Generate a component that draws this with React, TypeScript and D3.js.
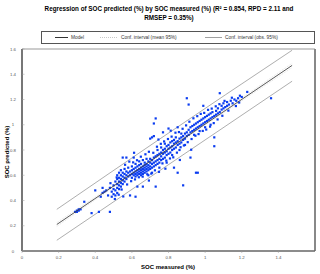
import React from "react"
import * as d3 from "d3"

// SOC measured (%) vs SOC predicted (%)
const points: [number, number][] = [
  [0.29,0.31],[0.30,0.32],[0.30,0.31],[0.31,0.32],[0.31,0.33],[0.32,0.33],[0.34,0.39],[0.38,0.30],[0.42,0.31],[0.40,0.48],[0.43,0.43],[0.44,0.50],[0.44,0.46],[0.45,0.47],[0.48,0.31],
  [0.46,0.48],[0.47,0.44],[0.48,0.50],[0.49,0.43],[0.49,0.47],[0.50,0.45],[0.50,0.49],[0.50,0.52],[0.51,0.44],[0.51,0.48],[0.51,0.55],[0.52,0.46],[0.52,0.50],[0.52,0.53],[0.52,0.57],[0.52,0.60],[0.53,0.49],[0.53,0.52],[0.53,0.55],[0.53,0.58],[0.53,0.62],[0.54,0.51],[0.54,0.54],[0.54,0.57],[0.54,0.60],[0.54,0.64],[0.55,0.53],[0.55,0.56],[0.55,0.59],[0.55,0.62],[0.55,0.74],[0.56,0.55],[0.56,0.58],[0.56,0.61],[0.56,0.65],[0.57,0.57],[0.57,0.60],[0.57,0.63],[0.57,0.74],[0.58,0.59],[0.58,0.62],[0.58,0.66],[0.59,0.44],[0.60,0.61],
  [0.59,0.60],[0.59,0.63],[0.60,0.58],[0.60,0.64],[0.60,0.67],[0.61,0.60],[0.61,0.62],[0.61,0.65],[0.61,0.74],[0.62,0.59],[0.62,0.61],[0.62,0.63],[0.62,0.66],[0.62,0.69],[0.62,0.43],[0.63,0.60],[0.63,0.62],[0.63,0.64],[0.63,0.67],[0.63,0.51],[0.64,0.61],[0.64,0.63],[0.64,0.65],[0.64,0.68],[0.64,0.71],[0.65,0.60],[0.65,0.62],[0.65,0.64],[0.65,0.66],[0.65,0.69],[0.66,0.61],[0.66,0.63],[0.66,0.65],[0.66,0.67],[0.66,0.51],[0.66,0.72],[0.67,0.62],[0.67,0.64],[0.67,0.66],[0.67,0.68],[0.67,0.70],[0.68,0.63],[0.68,0.65],[0.68,0.67],[0.68,0.69],[0.68,0.73],[0.69,0.64],[0.69,0.66],[0.69,0.68],[0.69,0.71],[0.69,0.60],[0.70,0.65],[0.70,0.67],[0.70,0.70],[0.70,0.73],[0.70,0.89],[0.71,0.66],[0.71,0.69],[0.71,0.72],[0.71,0.90],[0.71,0.62],[0.72,0.67],[0.72,0.70],[0.72,0.74],[0.72,0.91],[0.72,1.01],[0.73,0.68],[0.73,0.71],[0.73,0.75],[0.73,0.51],[0.73,1.05],[0.74,0.69],[0.74,0.72],[0.74,0.76],[0.74,0.80],[0.75,0.70],[0.75,0.73],[0.75,0.77],[0.75,0.66],
  [0.76,0.72],[0.76,0.75],[0.76,0.78],[0.76,0.82],[0.77,0.73],[0.77,0.77],[0.77,0.80],[0.77,0.94],[0.78,0.74],[0.78,0.78],[0.78,0.81],[0.78,0.85],[0.79,0.76],[0.79,0.79],[0.79,0.83],[0.79,0.70],[0.80,0.77],[0.80,0.81],[0.80,0.84],[0.80,0.97],[0.81,0.78],[0.81,0.82],[0.81,0.86],[0.82,0.80],[0.82,0.83],[0.82,0.87],[0.82,0.76],[0.83,0.81],[0.83,0.85],[0.83,0.88],[0.83,0.66],[0.84,0.82],[0.84,0.86],[0.84,0.90],[0.85,0.84],[0.85,0.87],[0.85,0.98],[0.85,0.62],[0.86,0.85],[0.86,0.89],[0.86,0.80],[0.87,0.86],[0.87,0.90],[0.87,0.93],[0.88,0.88],[0.88,0.91],[0.88,0.52],[0.89,0.89],[0.89,0.93],[0.89,0.84],[0.90,0.91],[0.90,0.94],[0.90,1.21],[0.91,0.92],[0.91,0.96],[0.91,1.16],[0.92,0.94],[0.92,0.74],[0.92,0.98],
  [0.93,0.95],[0.93,0.99],[0.94,0.96],[0.94,1.00],[0.94,0.92],[0.95,0.97],[0.95,1.01],[0.95,0.62],[0.96,0.98],[0.96,1.02],[0.96,0.62],[0.97,0.99],[0.97,1.03],[0.97,0.95],[0.98,1.00],[0.98,1.04],[0.99,1.01],[0.99,1.05],[0.99,1.15],[1.00,1.02],[1.00,1.06],[1.00,0.98],[1.01,1.03],[1.01,1.07],[1.02,1.04],[1.02,1.08],[1.03,1.05],[1.03,1.09],[1.03,1.00],[1.04,1.06],[1.04,1.10],[1.05,1.07],[1.05,0.90],[1.05,0.83],[1.06,1.08],[1.06,1.11],[1.07,1.09],[1.07,1.13],[1.08,1.10],[1.08,1.25],[1.09,1.12],[1.09,1.15],
  [1.10,1.13],[1.10,1.17],[1.11,1.14],[1.12,1.18],[1.12,1.15],[1.13,1.16],[1.14,1.19],[1.15,1.17],[1.16,1.20],[1.17,1.19],[1.18,1.21],[1.19,1.23],[1.20,1.22],[1.23,1.26],[1.36,1.21],
  // extra scatter inside the dense band
  [0.483,0.537],[0.507,0.412],[0.517,0.583],[0.528,0.446],[0.544,0.487],[0.563,0.683],[0.574,0.527],[0.586,0.708],[0.596,0.553],[0.607,0.702],[0.617,0.567],[0.628,0.719],[0.638,0.584],[0.649,0.747],[0.659,0.589],[0.674,0.766],[0.684,0.608],[0.693,0.786],[0.706,0.613],[0.717,0.778],[0.726,0.639],[0.737,0.826],[0.748,0.627],[0.758,0.849],[0.767,0.694],[0.776,0.868],[0.788,0.716],[0.797,0.887],[0.808,0.733],[0.817,0.906],[0.826,0.742],[0.838,0.937],[0.846,0.779],[0.857,0.942],[0.866,0.822],[0.877,0.968],[0.884,0.836],[0.896,0.995],[0.905,0.862],[0.914,1.024],[0.926,0.887],[0.936,1.051],[0.947,0.913],[0.957,1.068],[0.964,0.926],[0.976,1.086],[0.987,0.951],[0.995,1.094],[1.006,0.962],[1.016,1.118],[1.027,0.985],[1.036,1.128],[1.047,1.013],[1.058,1.146],[1.068,1.042],[1.078,1.163],[1.094,1.071],[1.106,1.189],[1.127,1.112],[1.146,1.214],[1.168,1.148],[1.186,1.176],[0.612,0.778],[0.553,0.432],[0.693,0.558],[0.783,0.652],[0.862,0.721],[0.924,0.802],[0.745,0.883],[0.812,0.953],
]

// regression line and intervals, at a few x positions
const lineX        = [0.19, 0.75, 1.475]
const modelY       = [0.21, 0.76, 1.47]
const meanUpperY   = [0.225, 0.766, 1.487]
const meanLowerY   = [0.195, 0.754, 1.453]
const obsUpperY    = [0.33, 0.885, 1.59]
const obsLowerY    = [0.085, 0.635, 1.345]

const ticks = [0, 0.2, 0.4, 0.6, 0.8, 1, 1.2, 1.4, 1.6]

const W = 320
const H = 274
const margin = { top: 49, right: 5, bottom: 23, left: 22 }

const App = () => {
  const x = d3.scaleLinear().domain([0, 1.6]).range([margin.left, W - margin.right])
  const y = d3.scaleLinear().domain([0, 1.6]).range([H - margin.bottom, margin.top])

  const line = d3.line<number>()
    .x((_, i) => x(lineX[i]))
    .y(d => y(d))
    .curve(d3.curveMonotoneX)

  const font = "'Liberation Sans', Arial, sans-serif"
  const x0 = x(0), x1 = x(1.6), y0 = y(0), y1 = y(1.6)

  return (
    <svg width={W} height={H} style={{ position: "absolute", left: 0, top: 0, background: "#fff" }} fontFamily={font}>
      <text x={169} y={11} textAnchor="middle" fontSize={6.3} fontWeight="bold">
        Regression of SOC predicted (%) by SOC measured (%) (R² = 0.854, RPD = 2.11 and
      </text>
      <text x={169} y={20} textAnchor="middle" fontSize={6.3} fontWeight="bold">
        RMSEP = 0.35%)
      </text>

      {/* legend */}
      <rect x={41.5} y={31.5} width={273} height={12} fill="none" stroke="#555" strokeWidth={1} />
      <g fontSize={4.8} fill="#333">
        <line x1={55} x2={68} y1={37.5} y2={37.5} stroke="#333" strokeWidth={1} />
        <text x={71} y={39.3}>Model</text>
        <line x1={100} x2={118} y1={37.5} y2={37.5} stroke="#bbb" strokeWidth={0.8} strokeDasharray="1,1" />
        <text x={121} y={39.3}>Conf. interval (mean 95%)</text>
        <line x1={205} x2={222} y1={37.5} y2={37.5} stroke="#888" strokeWidth={0.8} />
        <text x={225} y={39.3}>Conf. interval (obs. 95%)</text>
      </g>

      {/* plot frame */}
      <line x1={x0} x2={x1} y1={y1} y2={y1} stroke="#999" strokeWidth={1} />
      <line x1={x1} x2={x1} y1={y1} y2={y0} stroke="#888" strokeWidth={2} />
      <line x1={x0} x2={x1} y1={y0} y2={y0} stroke="#666" strokeWidth={1.5} />
      <line x1={x0} x2={x0} y1={y1} y2={y0} stroke="#777" strokeWidth={2} />

      {/* ticks */}
      <g fontSize={4.3} fill="#555">
        {ticks.map(t => (
          <g key={"y" + t}>
            <line x1={x0} x2={x0 + 2.5} y1={y(t)} y2={y(t)} stroke="#999" strokeWidth={0.5} />
            <text x={13} y={y(t) + 1.5} textAnchor="middle">{d3.format("~g")(t)}</text>
          </g>
        ))}
        {ticks.slice(0, 8).map(t => (
          <g key={"x" + t}>
            <line x1={x(t)} x2={x(t)} y1={y0} y2={y0 + 2} stroke="#999" strokeWidth={0.5} />
            <text x={x(t)} y={259} textAnchor="middle">{d3.format("~g")(t)}</text>
          </g>
        ))}
      </g>

      <text x={168} y={269} textAnchor="middle" fontSize={6} fontWeight="bold">SOC measured (%)</text>
      <text transform={`translate(8.5,152) rotate(-90)`} textAnchor="middle" fontSize={6} fontWeight="bold">SOC predicted (%)</text>

      {/* intervals and model */}
      <path d={line(obsUpperY) ?? ""} fill="none" stroke="#999" strokeWidth={0.8} />
      <path d={line(obsLowerY) ?? ""} fill="none" stroke="#999" strokeWidth={0.8} />
      <path d={line(meanUpperY) ?? ""} fill="none" stroke="#ccc" strokeWidth={0.6} strokeDasharray="1,1" />
      <path d={line(meanLowerY) ?? ""} fill="none" stroke="#ccc" strokeWidth={0.6} strokeDasharray="1,1" />

      {/* points */}
      <g fill="#0a3cf0">
        {points.map((p, i) => (
          <rect key={i} x={x(p[0]) - 1.1} y={y(p[1]) - 1.1} width={2.2} height={2.2} />
        ))}
      </g>

      <path d={line(modelY) ?? ""} fill="none" stroke="#444" strokeWidth={0.9} />
    </svg>
  )
}

export default App
